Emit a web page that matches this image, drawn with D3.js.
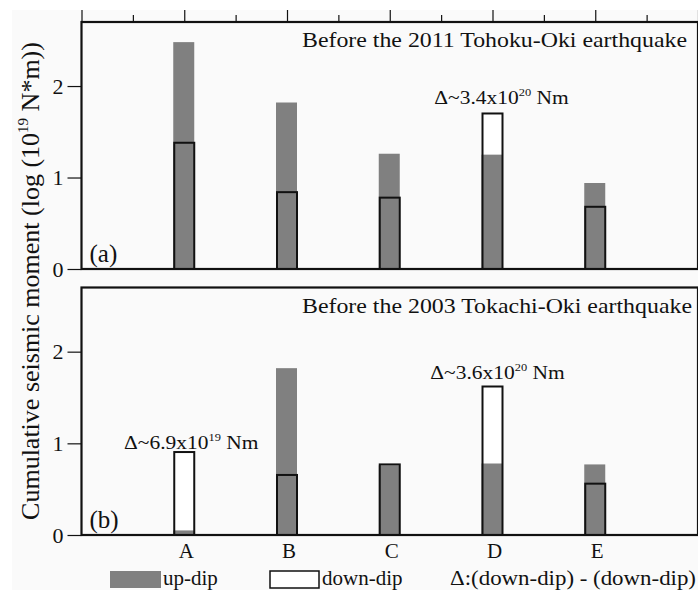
<!DOCTYPE html>
<html>
<head>
<meta charset="utf-8">
<script src="https://cdn.jsdelivr.net/npm/d3@7"></script>
<style>
  html, body { margin: 0; padding: 0; background: #ffffff; }
  svg { display: block; }
  svg text { font-family: "Liberation Serif", serif; fill: #111; }
</style>
</head>
<body>
<svg id="chart" width="698" height="590" style="font-family:'Liberation Serif', serif"></svg>
<script>
// ---- data ----
const categories = ["A", "B", "C", "D", "E"];
const upDipA = [2.48, 1.82, 1.26, 1.25, 0.94];   // (a) before 2011 Tohoku-Oki
const downDipA = [1.38, 0.84, 0.78, 1.70, 0.68];
const upDipB = [0.05, 1.82, 0.76, 0.78, 0.77];   // (b) before 2003 Tokachi-Oki
const downDipB = [0.905, 0.655, 0.77, 1.62, 0.56];
const yTicks = [0, 1, 2];
const panelTitles = ["Before the 2011 Tohoku-Oki earthquake", "Before the 2003 Tokachi-Oki earthquake"];
const panelTags = ["(a)", "(b)"];
const annotationsA = [{ cat: "D", base: "\u0394~3.4x10", sup: "20", tail: " Nm" }];
const annotationsB = [
  { cat: "A", base: "\u0394~6.9x10", sup: "19", tail: " Nm" },
  { cat: "D", base: "\u0394~3.6x10", sup: "20", tail: " Nm" }
];
const legendLabels = ["up-dip", "down-dip", "\u0394:(down-dip) - (down-dip)"];

// ---- layout ----
const FONT = "'Liberation Serif', serif";
const svg = d3.select("#chart");
const W = 698, H = 590;
const grayCol = "#808080";
const lineCol = "#111111";
const txt = sel => sel.style("font-family", FONT).style("fill", "#111");

svg.append("rect").attr("x", 12).attr("y", 10).attr("width", W - 12).attr("height", H - 10).attr("fill", "#fafafa");

// position scale: 0 = left frame, 1..5 categories, 6 = right frame
const x = d3.scaleLinear().domain([0, 6]).range([81.5, 698]);
const catPos = c => x(categories.indexOf(c) + 1);
const yMax = 2.7;

const panels = [
  { top: 22, bottom: 269, up: upDipA, down: downDipA, title: panelTitles[0], tag: panelTags[0], ann: annotationsA, titleLen: 385, annOffset: [9], annGap: [9] },
  { top: 287.5, bottom: 535, up: upDipB, down: downDipB, title: panelTitles[1], tag: panelTags[1], ann: annotationsB, titleLen: 390, annOffset: [7, 5], annGap: [3, 8] }
];

panels.forEach((p, pi) => {
  const y = d3.scaleLinear().domain([0, yMax]).range([p.bottom, p.top]);
  const g = svg.append("g");

  const bw = 20;
  g.selectAll("rect.downfill").data(p.down).join("rect")
    .attr("x", (d, i) => x(i + 1) - bw / 2 - 1)
    .attr("y", d => y(d))
    .attr("width", bw + 1)
    .attr("height", d => y(0) - y(d))
    .attr("fill", "#ffffff");
  g.selectAll("rect.up").data(p.up).join("rect")
    .attr("x", (d, i) => x(i + 1) - bw / 2 - 1)
    .attr("y", d => y(d))
    .attr("width", bw + 1)
    .attr("height", d => y(0) - y(d))
    .attr("fill", grayCol);
  g.selectAll("rect.downline").data(p.down).join("rect")
    .attr("x", (d, i) => x(i + 1) - bw / 2)
    .attr("y", d => y(d))
    .attr("width", bw)
    .attr("height", d => y(0) - y(d))
    .attr("fill", "none")
    .attr("stroke", lineCol)
    .attr("stroke-width", 2);

  g.append("rect")
    .attr("x", x(0)).attr("y", p.top)
    .attr("width", x(6) - x(0)).attr("height", p.bottom - p.top)
    .attr("fill", "none").attr("stroke", lineCol).attr("stroke-width", 2.2);

  const yAxis = d3.axisLeft(y).tickValues(yTicks).tickSize(14).tickPadding(4).tickFormat(d3.format("d"));
  const ax = g.append("g").attr("transform", `translate(${x(0)},0)`).call(yAxis);
  ax.attr("font-family", null).attr("font-size", null);
  ax.select(".domain").remove();
  ax.selectAll(".tick line").attr("stroke", lineCol).attr("stroke-width", 1.2);
  ax.selectAll(".tick text").style("font-size", "22px").call(txt);

  if (pi === 0) {
    const topMajor = d3.axisTop(x).tickValues(d3.range(0, 7)).tickSize(12).tickFormat("");
    const a1 = g.append("g").attr("transform", `translate(0,${p.top})`).call(topMajor);
    a1.select(".domain").remove();
    a1.selectAll(".tick line").attr("stroke", lineCol).attr("stroke-width", 1.2);
    const topMinor = d3.axisTop(x).tickValues(d3.range(0.5, 6, 1)).tickSize(7).tickFormat("");
    const a2 = g.append("g").attr("transform", `translate(0,${p.top})`).call(topMinor);
    a2.select(".domain").remove();
    a2.selectAll(".tick line").attr("stroke", lineCol).attr("stroke-width", 1.2);
  }

  g.append("text")
    .attr("x", 302).attr("y", p.top + 25)
    .style("font-size", "22px")
    .attr("textLength", p.titleLen).attr("lengthAdjust", "spacingAndGlyphs")
    .call(txt)
    .text(p.title);

  g.append("text")
    .attr("x", x(0) + 8).attr("y", p.bottom - 7)
    .style("font-size", "25px")
    .call(txt)
    .text(p.tag);

  p.ann.forEach((a, ai) => {
    const d = p.down[categories.indexOf(a.cat)];
    const ag = g.append("g")
      .attr("transform", `translate(${catPos(a.cat) + p.annOffset[ai]},${y(d) - p.annGap[ai]}) scale(1.13,1)`);
    const t = ag.append("text")
      .attr("x", 0).attr("y", 0)
      .attr("text-anchor", "middle")
      .style("font-size", "19px")
      .call(txt);
    t.append("tspan").text(a.base);
    t.append("tspan").style("font-size", "11px").attr("dy", -8).text(a.sup);
    t.append("tspan").attr("dy", 8).text(a.tail);
  });
});

svg.append("g").selectAll("text").data(categories).join("text")
  .attr("x", d => catPos(d) + 2)
  .attr("y", 558)
  .attr("text-anchor", "middle")
  .style("font-size", "21px")
  .call(txt)
  .text(d => d);

const yl = svg.append("text")
  .attr("transform", "translate(39,281) rotate(-90)")
  .attr("text-anchor", "middle")
  .style("font-size", "26px")
  .call(txt);
yl.append("tspan").text("Cumulative seismic moment (log (10");
yl.append("tspan").style("font-size", "15px").attr("dy", -11).text("19");
yl.append("tspan").attr("dy", 11).text(" N*m))");

const lg = svg.append("g");
lg.append("rect").attr("x", 110).attr("y", 571).attr("width", 51).attr("height", 17).attr("fill", grayCol);
lg.append("text").attr("x", 163).attr("y", 585).style("font-size", "21px").call(txt).text(legendLabels[0]);
lg.append("rect").attr("x", 270).attr("y", 571).attr("width", 49).attr("height", 17)
  .attr("fill", "#ffffff").attr("stroke", lineCol).attr("stroke-width", 1.5);
lg.append("text").attr("x", 322).attr("y", 585).style("font-size", "21px").call(txt).text(legendLabels[1]);
lg.append("text").attr("x", 450).attr("y", 585).style("font-size", "21px")
  .attr("textLength", 246).attr("lengthAdjust", "spacingAndGlyphs").call(txt).text(legendLabels[2]);
</script>
</body>
</html>
